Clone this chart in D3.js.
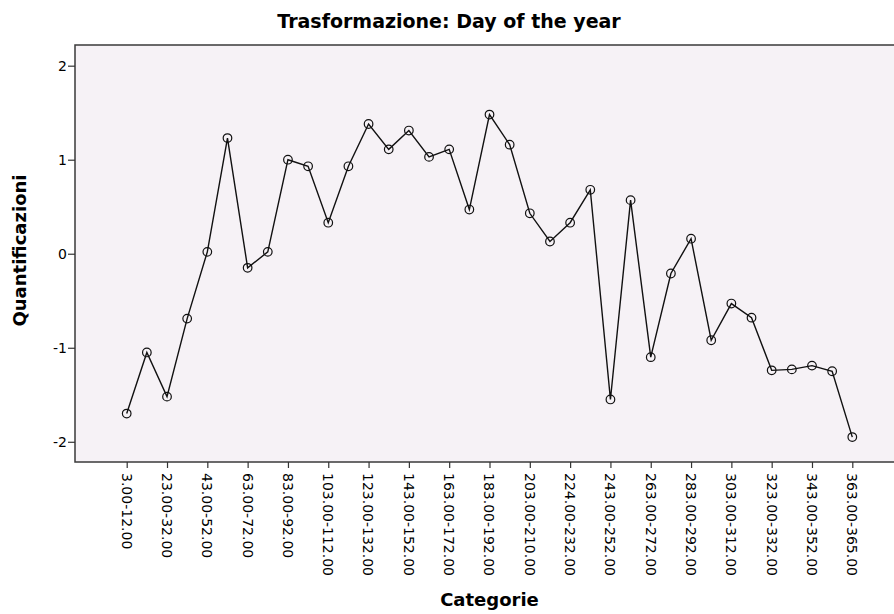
<!DOCTYPE html>
<html>
<head>
<meta charset="utf-8">
<script src="https://cdn.jsdelivr.net/npm/d3@7"></script>
<style>
  html, body { margin: 0; padding: 0; background: #ffffff; }
  svg { display: block; }
  text { font-family: "DejaVu Sans", Verdana, sans-serif; fill: #000; }
</style>
</head>
<body>
<svg id="chart" width="894" height="614"></svg>
<script>
const title = "Trasformazione: Day of the year";
const xTitle = "Categorie";
const yTitle = "Quantificazioni";

const categories = [
  "3.00-12.00", "13.00-22.00", "23.00-32.00", "33.00-42.00", "43.00-52.00",
  "53.00-62.00", "63.00-72.00", "73.00-82.00", "83.00-92.00", "93.00-102.00",
  "103.00-112.00", "113.00-122.00", "123.00-132.00", "133.00-142.00", "143.00-152.00",
  "153.00-162.00", "163.00-172.00", "173.00-182.00", "183.00-192.00", "193.00-202.00",
  "203.00-210.00", "211.00-223.00", "224.00-232.00", "233.00-242.00", "243.00-252.00",
  "253.00-262.00", "263.00-272.00", "273.00-282.00", "283.00-292.00", "293.00-302.00",
  "303.00-312.00", "313.00-322.00", "323.00-332.00", "333.00-342.00", "343.00-352.00",
  "353.00-362.00", "363.00-365.00"
];

const values = [
  -1.70, -1.05, -1.52, -0.69, 0.02, 1.23, -0.15, 0.02, 1.00, 0.93,
  0.33, 0.93, 1.38, 1.11, 1.31, 1.03, 1.11, 0.47, 1.48, 1.16,
  0.43, 0.13, 0.33, 0.68, -1.55, 0.57, -1.10, -0.21, 0.16, -0.92,
  -0.53, -0.68, -1.24, -1.23, -1.19, -1.25, -1.95
];

const xTickLabels = categories.filter((d, i) => i % 2 === 0);
const yTicks = [-2, -1, 0, 1, 2];
const yTickLabels = ["-2", "-1", "0", "1", "2"];

const svg = d3.select("#chart");
const frame = { left: 75, top: 45, right: 904, bottom: 462 };

const x = d3.scalePoint()
  .domain(categories)
  .range([126.7, 852.3]);

const y = d3.scaleLinear()
  .domain([-2.215, 2.22])
  .range([frame.bottom, frame.top]);

// plot background
svg.append("rect")
  .attr("x", frame.left).attr("y", frame.top)
  .attr("width", frame.right - frame.left).attr("height", frame.bottom - frame.top)
  .attr("fill", "#f6f2f6")
  .attr("stroke", "#3a3a3a")
  .attr("stroke-width", 1.5);

// y axis
const yAxis = d3.axisLeft(y).tickValues(yTicks)
  .tickFormat((d, i) => yTickLabels[i])
  .tickSize(7).tickPadding(1);
const gy = svg.append("g").attr("transform", `translate(${frame.left},0)`).call(yAxis);
gy.select(".domain").remove();
gy.selectAll(".tick line").attr("stroke", "#333").attr("stroke-width", 1.2);
gy.selectAll(".tick text").attr("font-size", 14).attr("font-family", "DejaVu Sans, Verdana, sans-serif");

// x axis
const xAxis = d3.axisBottom(x).tickValues(xTickLabels).tickSize(6).tickPadding(4);
const gx = svg.append("g").attr("transform", `translate(0,${frame.bottom})`).call(xAxis);
gx.select(".domain").remove();
gx.selectAll(".tick line").attr("stroke", "#333").attr("stroke-width", 1.2);
gx.selectAll(".tick text")
  .attr("font-size", 14)
  .attr("font-family", "DejaVu Sans, Verdana, sans-serif")
  .attr("transform", "rotate(90)")
  .attr("text-anchor", "start")
  .attr("dy", "0.4em")
  .attr("x", 11)
  .attr("y", 0);

// line
const line = d3.line().x((d, i) => x(categories[i])).y(d => y(d));
svg.append("path")
  .datum(values)
  .attr("fill", "none")
  .attr("stroke", "#111")
  .attr("stroke-width", 1.4)
  .attr("d", line);

svg.append("g").selectAll("circle")
  .data(values)
  .join("circle")
  .attr("cx", (d, i) => x(categories[i]))
  .attr("cy", d => y(d))
  .attr("r", 4.3)
  .attr("fill", "none")
  .attr("stroke", "#111")
  .attr("stroke-width", 1.2);

// titles
svg.append("text")
  .attr("x", 449).attr("y", 28)
  .attr("text-anchor", "middle")
  .attr("font-size", 19).attr("font-weight", "bold")
  .text(title);

svg.append("text")
  .attr("x", (frame.left + frame.right) / 2).attr("y", 606)
  .attr("text-anchor", "middle")
  .attr("font-size", 18).attr("font-weight", "bold")
  .text(xTitle);

svg.append("text")
  .attr("transform", `translate(26,${(frame.top + frame.bottom) / 2 - 3}) rotate(-90)`)
  .attr("text-anchor", "middle")
  .attr("font-size", 18).attr("font-weight", "bold")
  .text(yTitle);
</script>
</body>
</html>
